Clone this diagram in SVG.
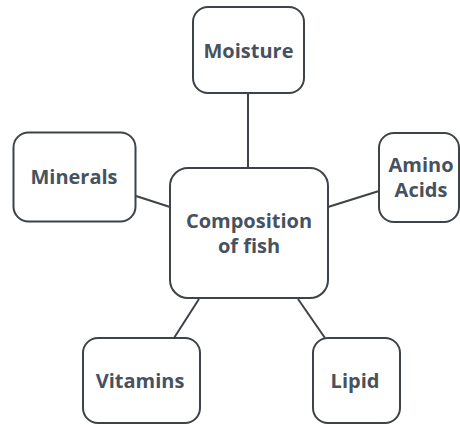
<svg xmlns="http://www.w3.org/2000/svg" width="460" height="425" viewBox="0 0 460 425">
<style>
.box{fill:#ffffff;stroke:#3d4349;stroke-width:2}
.lbl{font-family:"Open Sans","Liberation Sans",sans-serif;font-weight:bold;font-size:20px;fill:#46525f;text-anchor:middle}
.conn line{stroke:#3d4349;stroke-width:2}
</style>
<rect width="460" height="425" fill="#ffffff"/>
<g id="connectors" class="conn">
<line x1="248" y1="93" x2="248" y2="168"/>
<line x1="136" y1="196" x2="170" y2="207"/>
<line x1="328" y1="207" x2="379" y2="191"/>
<line x1="199" y1="299" x2="174" y2="338"/>
<line x1="298" y1="299" x2="325" y2="338"/>
</g>
<g id="moisture">
<rect class="box" x="193" y="7" width="111" height="86" rx="15"/>
<text class="lbl" x="248.5" y="58">Moisture</text>
</g>
<g id="minerals">
<rect class="box" x="13.5" y="132.5" width="122" height="89" rx="15"/>
<text class="lbl" x="74" y="184">Minerals</text>
</g>
<g id="amino-acids">
<rect class="box" x="379" y="133" width="80" height="89" rx="15"/>
<text class="lbl" x="421" y="172">Amino</text>
<text class="lbl" x="421" y="197">Acids</text>
</g>
<g id="composition">
<rect class="box" x="170" y="168" width="158" height="130" rx="18"/>
<text class="lbl" x="249" y="228">Composition</text>
<text class="lbl" x="249" y="253">of fish</text>
</g>
<g id="vitamins">
<rect class="box" x="83" y="338" width="117" height="85" rx="15"/>
<text class="lbl" x="140" y="388">Vitamins</text>
</g>
<g id="lipid">
<rect class="box" x="313" y="338" width="87" height="85" rx="15"/>
<text class="lbl" x="355" y="388">Lipid</text>
</g>
</svg>
